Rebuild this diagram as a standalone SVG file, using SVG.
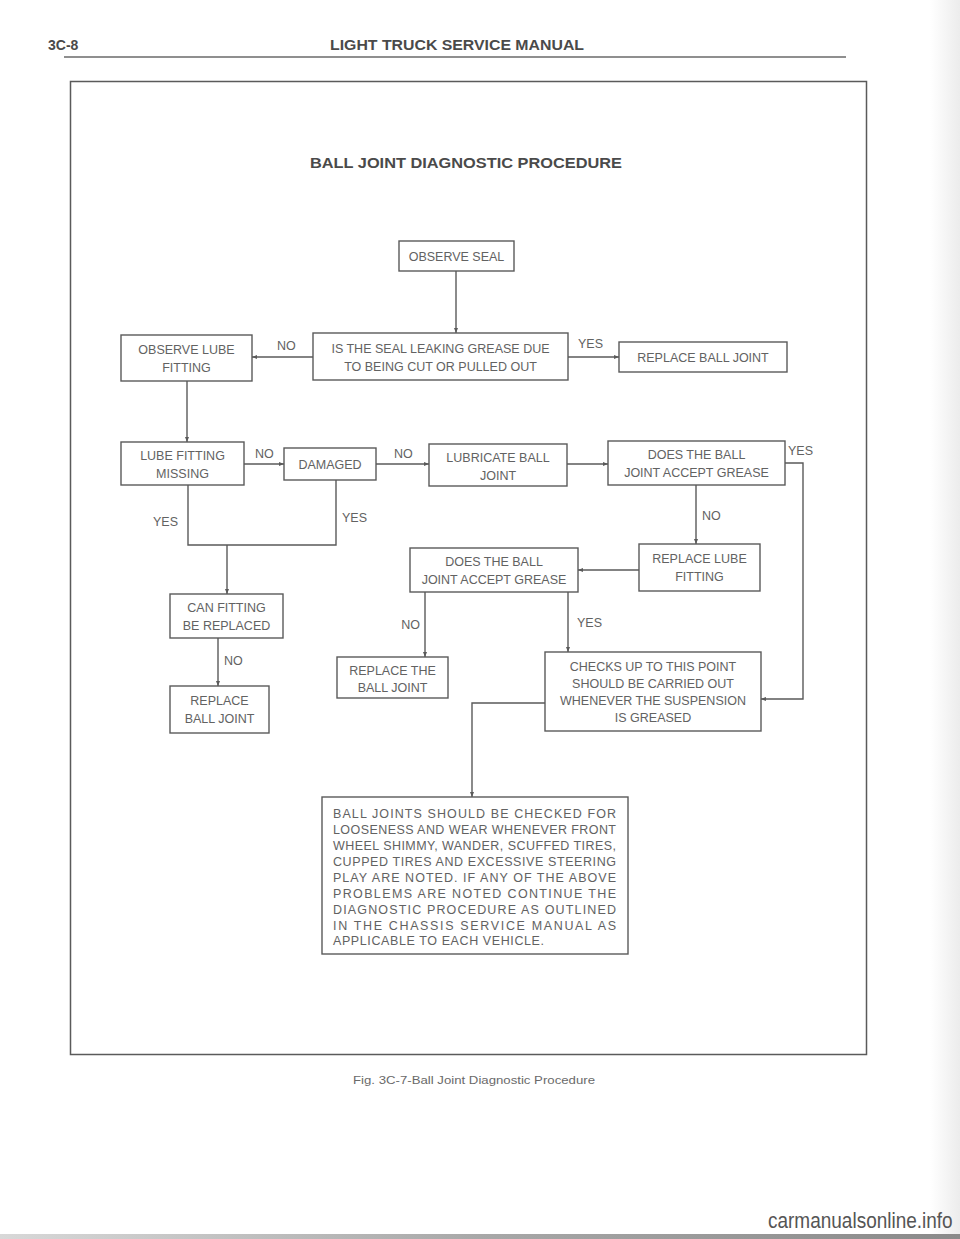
<svg xmlns="http://www.w3.org/2000/svg" width="960" height="1239" viewBox="0 0 960 1239">
<defs>
<marker id="arr" viewBox="0 0 10 10" refX="10" refY="5" markerWidth="5" markerHeight="5" orient="auto" markerUnits="userSpaceOnUse">
<path d="M0,1 L10,5 L0,9 z" fill="#5a5a5a"/>
</marker>
<linearGradient id="band" x1="0" y1="0" x2="1" y2="0">
<stop offset="0" stop-color="#d8d8d8"/>
<stop offset="0.5" stop-color="#a8a8a8"/>
<stop offset="1" stop-color="#8a8a8a"/>
</linearGradient>
<linearGradient id="edge" x1="0" y1="0" x2="1" y2="0">
<stop offset="0" stop-color="#ffffff"/>
<stop offset="1" stop-color="#ececec"/>
</linearGradient>
</defs>
<style>
.box{fill:none;stroke:#5a5a5a;stroke-width:1.4}
.ln{fill:none;stroke:#5a5a5a;stroke-width:1.4}
.t{font-family:"Liberation Sans",Arial,sans-serif;font-size:12.5px;fill:#626262;text-anchor:middle}
.lbl{font-family:"Liberation Sans",Arial,sans-serif;font-size:12.5px;fill:#626262}
.note{font-family:"Liberation Sans",Arial,sans-serif;font-size:12.5px;fill:#626262}
.hd{font-family:"Liberation Sans",Arial,sans-serif;font-weight:bold;fill:#4a4a4a}
</style>
<rect x="0" y="0" width="960" height="1239" fill="#ffffff"/>
<rect x="930" y="0" width="30" height="1239" fill="url(#edge)"/>
<rect x="0" y="1234" width="960" height="5" fill="url(#band)"/>

<g id="header">
<text class="hd" x="48" y="50" font-size="14">3C-8</text>
<text class="hd" x="457" y="50" font-size="14" text-anchor="middle" textLength="254" lengthAdjust="spacingAndGlyphs">LIGHT TRUCK SERVICE MANUAL</text>
<line x1="64" y1="57" x2="846" y2="57" stroke="#6a6a6a" stroke-width="1.6"/>
</g>

<g id="frame">
<rect x="70.5" y="81.5" width="796" height="973" fill="none" stroke="#5a5a5a" stroke-width="1.5"/>
<text class="hd" x="466" y="168" font-size="14" text-anchor="middle" textLength="312" lengthAdjust="spacingAndGlyphs">BALL JOINT DIAGNOSTIC PROCEDURE</text>
</g>

<g id="connectors">
<path class="ln" d="M456,271 V333" marker-end="url(#arr)"/>
<path class="ln" d="M313,357 H252" marker-end="url(#arr)"/>
<path class="ln" d="M568,357 H619" marker-end="url(#arr)"/>
<path class="ln" d="M187,381 V442" marker-end="url(#arr)"/>
<path class="ln" d="M244,464 H284" marker-end="url(#arr)"/>
<path class="ln" d="M376,464 H429" marker-end="url(#arr)"/>
<path class="ln" d="M567,464 H608" marker-end="url(#arr)"/>
<path class="ln" d="M785,463 H803 V699 H761" marker-end="url(#arr)"/>
<path class="ln" d="M696,485 V544" marker-end="url(#arr)"/>
<path class="ln" d="M639,570 H578" marker-end="url(#arr)"/>
<path class="ln" d="M425,592 V657" marker-end="url(#arr)"/>
<path class="ln" d="M568,592 V652" marker-end="url(#arr)"/>
<path class="ln" d="M188,485 V545 H336 V480"/>
<path class="ln" d="M227,545 V594" marker-end="url(#arr)"/>
<path class="ln" d="M218,638 V686" marker-end="url(#arr)"/>
<path class="ln" d="M545,703 H472 V797" marker-end="url(#arr)"/>
<text class="lbl" x="277" y="350">NO</text>
<text class="lbl" x="578" y="348">YES</text>
<text class="lbl" x="255" y="458">NO</text>
<text class="lbl" x="394" y="458">NO</text>
<text class="lbl" x="788" y="455">YES</text>
<text class="lbl" x="702" y="520">NO</text>
<text class="lbl" x="178" y="526" text-anchor="end">YES</text>
<text class="lbl" x="342" y="522">YES</text>
<text class="lbl" x="420" y="629" text-anchor="end">NO</text>
<text class="lbl" x="577" y="627">YES</text>
<text class="lbl" x="224" y="665">NO</text>
</g>

<g id="observe-seal">
<rect class="box" x="399" y="241" width="115" height="30"/>
<text class="t" x="456.5" y="261">OBSERVE SEAL</text>
</g>
<g id="seal-leaking">
<rect class="box" x="313" y="333" width="255" height="47"/>
<text class="t" x="440.5" y="353">IS THE SEAL LEAKING GREASE DUE</text>
<text class="t" x="440.5" y="371">TO BEING CUT OR PULLED OUT</text>
</g>
<g id="observe-lube">
<rect class="box" x="121" y="335" width="131" height="46"/>
<text class="t" x="186.5" y="354">OBSERVE LUBE</text>
<text class="t" x="186.5" y="372">FITTING</text>
</g>
<g id="replace-ball-joint-top">
<rect class="box" x="619" y="342" width="168" height="30"/>
<text class="t" x="703" y="362">REPLACE BALL JOINT</text>
</g>
<g id="lube-missing">
<rect class="box" x="121" y="442" width="123" height="43"/>
<text class="t" x="182.5" y="460">LUBE FITTING</text>
<text class="t" x="182.5" y="478">MISSING</text>
</g>
<g id="damaged">
<rect class="box" x="284" y="448" width="92" height="32"/>
<text class="t" x="330" y="469">DAMAGED</text>
</g>
<g id="lubricate">
<rect class="box" x="429" y="444" width="138" height="42"/>
<text class="t" x="498" y="462">LUBRICATE BALL</text>
<text class="t" x="498" y="480">JOINT</text>
</g>
<g id="accept-grease-1">
<rect class="box" x="608" y="441" width="177" height="44"/>
<text class="t" x="696.5" y="459">DOES THE BALL</text>
<text class="t" x="696.5" y="477">JOINT ACCEPT GREASE</text>
</g>
<g id="replace-lube">
<rect class="box" x="639" y="544" width="121" height="47"/>
<text class="t" x="699.5" y="563">REPLACE LUBE</text>
<text class="t" x="699.5" y="581">FITTING</text>
</g>
<g id="accept-grease-2">
<rect class="box" x="410" y="548" width="168" height="44"/>
<text class="t" x="494" y="566">DOES THE BALL</text>
<text class="t" x="494" y="584">JOINT ACCEPT GREASE</text>
</g>
<g id="can-fitting">
<rect class="box" x="170" y="594" width="113" height="44"/>
<text class="t" x="226.5" y="612">CAN FITTING</text>
<text class="t" x="226.5" y="630">BE REPLACED</text>
</g>
<g id="replace-ball-joint-left">
<rect class="box" x="170" y="686" width="99" height="47"/>
<text class="t" x="219.5" y="705">REPLACE</text>
<text class="t" x="219.5" y="723">BALL JOINT</text>
</g>
<g id="replace-the-ball-joint">
<rect class="box" x="337" y="657" width="111" height="41"/>
<text class="t" x="392.5" y="675">REPLACE THE</text>
<text class="t" x="392.5" y="692">BALL JOINT</text>
</g>
<g id="checks">
<rect class="box" x="545" y="652" width="216" height="79"/>
<text class="t" x="653" y="671">CHECKS UP TO THIS POINT</text>
<text class="t" x="653" y="688">SHOULD BE CARRIED OUT</text>
<text class="t" x="653" y="705">WHENEVER THE SUSPENSION</text>
<text class="t" x="653" y="722">IS GREASED</text>
</g>
<g id="note">
<rect class="box" x="322" y="797" width="306" height="157"/>
<text class="note" x="333" y="818" textLength="283" lengthAdjust="spacing">BALL JOINTS SHOULD BE CHECKED FOR</text>
<text class="note" x="333" y="834" textLength="283" lengthAdjust="spacing">LOOSENESS AND WEAR WHENEVER FRONT</text>
<text class="note" x="333" y="850" textLength="283" lengthAdjust="spacing">WHEEL SHIMMY, WANDER, SCUFFED TIRES,</text>
<text class="note" x="333" y="866" textLength="283" lengthAdjust="spacing">CUPPED TIRES AND EXCESSIVE STEERING</text>
<text class="note" x="333" y="882" textLength="283" lengthAdjust="spacing">PLAY ARE NOTED. IF ANY OF THE ABOVE</text>
<text class="note" x="333" y="898" textLength="283" lengthAdjust="spacing">PROBLEMS ARE NOTED CONTINUE THE</text>
<text class="note" x="333" y="914" textLength="283" lengthAdjust="spacing">DIAGNOSTIC PROCEDURE AS OUTLINED</text>
<text class="note" x="333" y="930" textLength="283" lengthAdjust="spacing">IN THE CHASSIS SERVICE MANUAL AS</text>
<text class="note" x="333" y="945" textLength="211" lengthAdjust="spacing">APPLICABLE TO EACH VEHICLE.</text>
</g>

<g id="caption">
<text x="474" y="1084" font-family="'Liberation Sans',Arial,sans-serif" font-size="11" fill="#6a6a6a" text-anchor="middle" textLength="242" lengthAdjust="spacingAndGlyphs">Fig. 3C-7-Ball Joint Diagnostic Procedure</text>
</g>
<g id="watermark">
<text transform="translate(768,1228) scale(1,1.2)" x="0" y="0" font-family="'Liberation Sans',Arial,sans-serif" font-size="19" fill="#555555">carmanualsonline.info</text>
</g>
</svg>
